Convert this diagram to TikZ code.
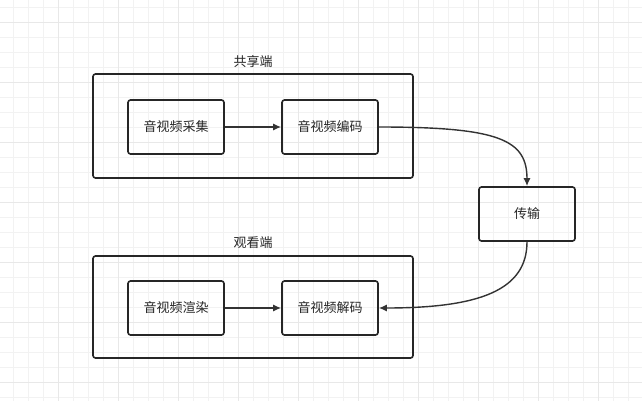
\documentclass[tikz,border=0pt]{standalone}
\usepackage{fontspec}
\newfontfamily\cjk{Noto Sans CJK SC}
\usetikzlibrary{arrows.meta}
\begin{document}
\begin{tikzpicture}[x=1pt,y=-1pt,
  box/.style={draw=black!85,line width=1.6pt,rounded corners=2.5pt,inner sep=0pt,font=\cjk\fontsize{13}{15}\selectfont,text=black!85},
  grp/.style={draw=black!85,line width=1.6pt,rounded corners=2.5pt},
  lbl/.style={font=\cjk\fontsize{13}{15}\selectfont,text=black!85},
  arr/.style={draw=black!80,line width=1.4pt,-{Latex[length=8pt,width=7pt]}}]
\useasboundingbox (0,0) rectangle (642,401);
\fill[white] (0,0) rectangle (642,401);
\foreach \x in {-2,13,...,642} \draw[black!5,line width=0.7pt] (\x,0) -- (\x,401);
\foreach \y in {7,22,...,401} \draw[black!5,line width=0.7pt] (0,\y) -- (642,\y);
\foreach \x in {-2,58,...,642} \draw[black!9,line width=0.9pt] (\x,0) -- (\x,401);
\foreach \y in {22,82,...,401} \draw[black!9,line width=0.9pt] (0,\y) -- (642,\y);
\node[grp,minimum width=320pt,minimum height=104pt] (g1) at (253,126) {};
\node[grp,minimum width=320pt,minimum height=102pt] (g2) at (253,307) {};
\node[lbl] (l1) at (253,62) {共享端};
\node[lbl] (l2) at (253,243) {观看端};
\node[box,minimum width=96pt,minimum height=54pt] (a) at (176,127) {音视频采集};
\node[box,minimum width=96pt,minimum height=54pt] (b) at (330,127) {音视频编码};
\node[box,minimum width=96pt,minimum height=54pt] (t) at (527,214) {传输};
\node[box,minimum width=96pt,minimum height=54pt] (c) at (176,308) {音视频渲染};
\node[box,minimum width=96pt,minimum height=54pt] (d) at (330,308) {音视频解码};
\draw[arr] (a) -- (b);
\draw[arr] (b.east) .. controls (500,127) and (527,140) .. (t.north);
\draw[arr] (t.south) .. controls (527,290) and (480,308) .. (d.east);
\draw[arr] (c) -- (d);
\end{tikzpicture}
\end{document}
